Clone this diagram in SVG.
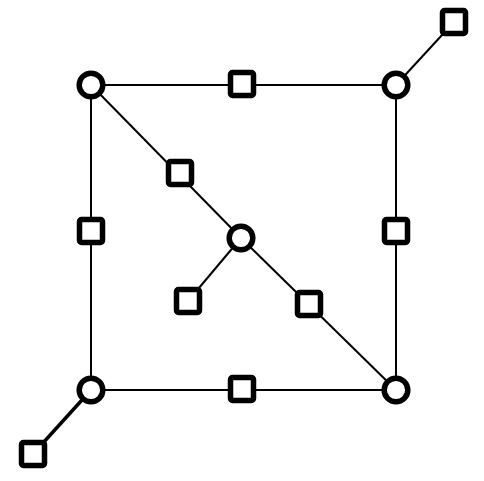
<svg xmlns="http://www.w3.org/2000/svg" width="484" height="481" viewBox="0 0 484 481">
<style>
.e{stroke:#000;stroke-width:2;fill:none}
.thick{stroke-width:3.5}
.c{fill:#fff;stroke:#000;stroke-width:5.5}
.s{fill:#fff;stroke:#000;stroke-width:5.5}
</style>
<rect width="484" height="481" fill="#fff"/>
<g id="connectors">
<line class="e" x1="91" y1="85" x2="396" y2="85"/>
<line class="e" x1="91" y1="85" x2="91" y2="390"/>
<line class="e" x1="396" y1="85" x2="396" y2="390"/>
<line class="e" x1="91" y1="390" x2="396" y2="390"/>
<line class="e" x1="91" y1="85" x2="241" y2="238"/>
<line class="e" x1="241" y1="238" x2="396" y2="390"/>
<line class="e" x1="241" y1="238" x2="188" y2="301"/>
<line class="e" x1="396" y1="85" x2="454" y2="22"/>
<line class="e thick" x1="91" y1="390" x2="33" y2="454"/>
</g>
<g id="n1"><circle class="c" cx="91" cy="85" r="11.8"/></g>
<g id="n2"><circle class="c" cx="396" cy="85" r="11.8"/></g>
<g id="n3"><circle class="c" cx="91" cy="390" r="11.8"/></g>
<g id="n4"><circle class="c" cx="396" cy="390" r="11.8"/></g>
<g id="n5"><circle class="c" cx="241" cy="238" r="11.8"/></g>
<g id="s1"><rect class="s" x="230.5" y="72.5" width="23" height="23" rx="2"/></g>
<g id="s2"><rect class="s" x="79.5" y="219.5" width="23" height="23" rx="2"/></g>
<g id="s3"><rect class="s" x="384.5" y="219.5" width="23" height="23" rx="2"/></g>
<g id="s4"><rect class="s" x="230.5" y="377.5" width="23" height="23" rx="2"/></g>
<g id="s5"><rect class="s" x="168.5" y="161.5" width="23" height="23" rx="2"/></g>
<g id="s6"><rect class="s" x="176.5" y="289.5" width="23" height="23" rx="2"/></g>
<g id="s7"><rect class="s" x="297.5" y="292.5" width="23" height="23" rx="2"/></g>
<g id="s8"><rect class="s" x="442.5" y="10.5" width="23" height="23" rx="2"/></g>
<g id="s9"><rect class="s" x="21.5" y="442.5" width="23" height="23" rx="2"/></g>
</svg>
